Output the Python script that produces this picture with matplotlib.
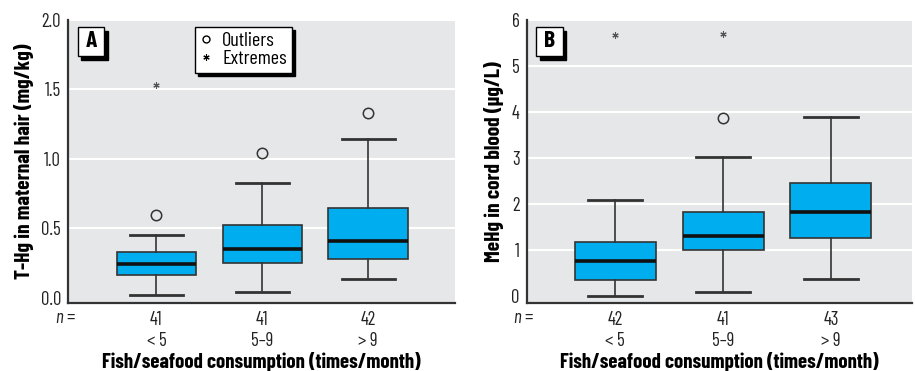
import matplotlib
matplotlib.use("Agg")
import matplotlib.pyplot as plt
import matplotlib.patches as patches
from matplotlib.lines import Line2D

plt.rcParams['font.family'] = ['Barlow Condensed', 'DejaVu Sans']
plt.rcParams['mathtext.fontset'] = 'custom'
plt.rcParams['mathtext.it'] = 'Barlow Condensed:italic'
plt.rcParams['mathtext.rm'] = 'Barlow Condensed'

groups = ['< 5', '5\u20139', '> 9']

# panel A: T-Hg in maternal hair (mg/kg)
hair_n = [41, 41, 42]
hair_low = [0.023, 0.042, 0.137]
hair_q1 = [0.165, 0.253, 0.284]
hair_med = [0.248, 0.353, 0.407]
hair_q3 = [0.331, 0.523, 0.649]
hair_high = [0.452, 0.824, 1.147]
hair_outliers = [[0.599], [1.043], [1.334]]
hair_extremes = [[1.533], [], []]

# panel B: MeHg in cord blood (ug/L)
blood_n = [42, 41, 43]
blood_low = [0.01, 0.094, 0.377]
blood_q1 = [0.36, 0.995, 1.26]
blood_med = [0.77, 1.31, 1.83]
blood_q3 = [1.17, 1.82, 2.46]
blood_high = [2.09, 3.03, 3.90]
blood_outliers = [[], [3.87], []]
blood_extremes = [[5.69], [5.71], []]

BOX_COLOR = '#00aeef'
BG = '#e6e7e8'
DARK = '#333333'


def shadow_box(ax, x0, y0, w, h, dx=0.009, dy=0.014):
    '''draw a white box with a black drop shadow in axes coords'''
    sh = patches.Rectangle((x0 + dx, y0 - dy), w, h, transform=ax.transAxes,
                           facecolor='black', edgecolor='black', lw=1,
                           zorder=5, clip_on=False)
    bx = patches.Rectangle((x0, y0), w, h, transform=ax.transAxes,
                           facecolor='white', edgecolor='black', lw=1,
                           zorder=6, clip_on=False)
    ax.add_patch(sh)
    ax.add_patch(bx)


def draw_panel(ax, letter, n, low, q1, med, q3, high, outliers, extremes,
               ylim, yticks, yticklabels, ylabel, xlim):
    stats = []
    for i in range(len(med)):
        stats.append(dict(whislo=low[i], q1=q1[i], med=med[i], q3=q3[i],
                          whishi=high[i], fliers=outliers[i]))
    pos = [1, 2, 3]
    ax.set_facecolor(BG)
    for t in yticks[1:]:
        ax.axhline(t, color='white', lw=1.5, zorder=0)
    ax.bxp(stats, positions=pos, widths=0.75, capwidths=0.5, patch_artist=True,
           boxprops=dict(facecolor=BOX_COLOR, edgecolor=DARK, lw=1.2),
           medianprops=dict(color='#111111', lw=2.6),
           whiskerprops=dict(color=DARK, lw=1.2),
           capprops=dict(color=DARK, lw=2.0),
           flierprops=dict(marker='o', markersize=7.5, markerfacecolor='none',
                           markeredgecolor=DARK, markeredgewidth=1.1))
    for p, ex in zip(pos, extremes):
        if ex:
            ax.plot([p] * len(ex), ex, ls='none', marker=(6, 2, 0),
                    markersize=4.5, color='#555555', mew=0.8)

    ax.set_xlim(*xlim)
    ax.set_ylim(*ylim)
    ax.set_yticks(yticks)
    ax.set_yticklabels(yticklabels)
    ax.set_xticks(pos)
    ax.set_xticklabels([f'{k}\n{g}' for k, g in zip(n, groups)], linespacing=1.2)
    ax.tick_params(axis='both', length=0, labelsize=13.5, colors='#222222')
    ax.tick_params(axis='x', pad=6)
    ax.tick_params(axis='y', pad=5)
    for s in ('top', 'right'):
        ax.spines[s].set_visible(False)
    for s in ('left', 'bottom'):
        ax.spines[s].set_color(DARK)
        ax.spines[s].set_linewidth(1.6)
    ax.set_ylabel(ylabel, fontsize=15.5, fontweight='bold', labelpad=5)
    ax.set_xlabel('Fish/seafood consumption (times/month)', fontsize=15,
                  fontweight='bold', labelpad=1)
    ax.text(0.02, -0.053, '$n$ =', transform=ax.transAxes, ha='right',
            va='center', fontsize=13.5, color='#222222')

    shadow_box(ax, 0.025, 0.873, 0.069, 0.103)
    ax.text(0.0595, 0.9245, letter, transform=ax.transAxes, ha='center',
            va='center', fontsize=17, fontweight='bold', zorder=7)


fig = plt.figure(figsize=(9.15, 3.71), dpi=100)
axA = fig.add_axes([0.0743, 0.1833, 0.423, 0.7628])
axB = fig.add_axes([0.5756, 0.1833, 0.421, 0.7628])

draw_panel(axA, 'A', hair_n, hair_low, hair_q1, hair_med, hair_q3, hair_high,
           hair_outliers, hair_extremes, (-0.036, 1.977),
           [0.0, 0.5, 1.0, 1.5, 2.0], ['0.0', '0.5', '1.0', '1.5', '2.0'],
           'T-Hg in maternal hair (mg/kg)', (0.165, 3.82))
draw_panel(axB, 'B', blood_n, blood_low, blood_q1, blood_med, blood_q3, blood_high,
           blood_outliers, blood_extremes, (-0.15, 6.01),
           [0, 1, 2, 3, 4, 5, 6], ['0', '1', '2', '3', '4', '5', '6'],
           'MeHg in cord blood (\u00b5g/L)', (0.18, 3.75))

# legend for outliers / extremes in panel A
handles = [Line2D([], [], ls='none', marker='o', markersize=5, markerfacecolor='none',
                  markeredgecolor='black', markeredgewidth=1),
           Line2D([], [], ls='none', marker=(6, 2, 0), markersize=4.5, color='black',
                  mew=0.8)]
leg = axA.legend(handles, ['Outliers', 'Extremes'], loc='upper left',
                 bbox_to_anchor=(0.328, 0.976), fontsize=14.5, frameon=True,
                 fancybox=False, shadow={'color': 'black', 'alpha': 1},
                 handlelength=0.6, handletextpad=0.5, borderpad=0.25,
                 labelspacing=0.0, borderaxespad=0)
leg.get_frame().set_edgecolor('black')
leg.get_frame().set_linewidth(1)
leg.set_zorder(8)

fig.savefig('out.png', dpi=100)
